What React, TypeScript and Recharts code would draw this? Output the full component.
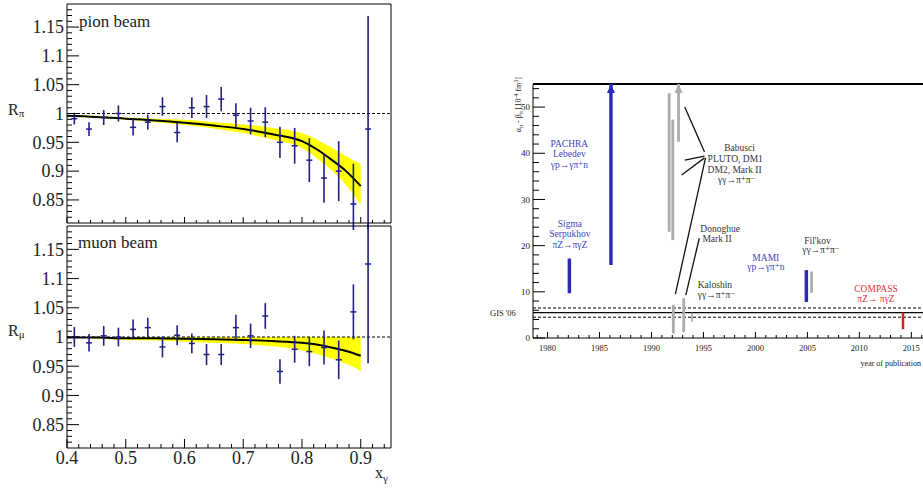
import { ComposedChart, Line, Area, Scatter, ErrorBar, XAxis, YAxis, ReferenceLine, ReferenceDot } from "recharts"

// ---- left panels: R vs x_gamma ----
const binX = [
  0.4125, 0.4375, 0.4625, 0.4875, 0.5125, 0.5375, 0.5625, 0.5875, 0.6125, 0.6375, 0.6625,
  0.6875, 0.7125, 0.7375, 0.7625, 0.7875, 0.8125, 0.8375, 0.8625, 0.8875, 0.9125,
]
const pionR = [
  0.991, 0.973, 0.993, 1.0, 0.976, 0.985, 1.012, 0.967, 1.01, 1.012, 1.025, 0.997, 0.987, 0.985,
  0.95, 0.944, 0.919, 0.888, 0.9, 0.843, 0.973,
]
const pionErr = [
  0.01, 0.012, 0.013, 0.014, 0.014, 0.013, 0.016, 0.017, 0.018, 0.02, 0.021, 0.021, 0.023, 0.026,
  0.027, 0.031, 0.038, 0.043, 0.052, 0.07, 0.196,
]
const muonR = [
  1.0, 0.99, 1.002, 1.0, 1.013, 1.016, 0.983, 1.003, 0.989, 0.97, 0.97, 1.016, 1.002, 1.036, 0.941,
  0.979, 0.975, 0.982, 0.961, 1.043, 1.125,
]
const muonErr = [
  0.017, 0.015, 0.017, 0.016, 0.017, 0.017, 0.018, 0.017, 0.017, 0.018, 0.018, 0.022, 0.021, 0.022,
  0.021, 0.023, 0.025, 0.029, 0.033, 0.047, 0.17,
]

const fitX = [0.4, 0.45, 0.5, 0.55, 0.6, 0.65, 0.7, 0.75, 0.8, 0.825, 0.85, 0.875, 0.9]
const pionFit = [0.996, 0.994, 0.991, 0.988, 0.984, 0.979, 0.973, 0.964, 0.952, 0.938, 0.92, 0.9, 0.874]
const pionLo = [0.995, 0.992, 0.989, 0.985, 0.98, 0.974, 0.966, 0.955, 0.94, 0.923, 0.902, 0.876, 0.842]
const pionHi = [0.997, 0.996, 0.993, 0.991, 0.989, 0.985, 0.981, 0.975, 0.966, 0.955, 0.941, 0.926, 0.912]
const muonFit = [0.999, 0.999, 0.998, 0.998, 0.997, 0.996, 0.995, 0.993, 0.99, 0.987, 0.982, 0.976, 0.968]
const muonLo = [0.999, 0.997, 0.995, 0.994, 0.992, 0.99, 0.988, 0.984, 0.977, 0.971, 0.963, 0.954, 0.942]
const muonHi = [1.0, 1.0, 1.0, 1.0, 1.0, 1.0, 1.0, 1.0, 1.0, 1.0, 1.0, 1.0, 1.0]

const rMajor = [0.85, 0.9, 0.95, 1, 1.05, 1.1, 1.15]
const rLabels = ["0.85", "0.9", "0.95", "1", "1.05", "1.1", "1.15"]
const xMajor = [0.4, 0.5, 0.6, 0.7, 0.8, 0.9]
const xLabels = ["0.4", "0.5", "0.6", "0.7", "0.8", "0.9"]

// ---- right panel: alpha - beta vs year ----
const blueYear = [1982.1, 1986.1, 2004.9]
const blueLo = [9.7, 15.8, 7.8]
const blueHi = [17.2, 55, 14.7]
const grayYear = [1991.7, 1992.05, 1992.6, 1992.1, 1993.1, 2005.4]
const grayLo = [23, 21.2, 42.5, 1, 1.3, 9.8]
const grayHi = [53, 47.3, 55, 7.2, 8.6, 14.4]
const smallYear = [1993.9]
const smallLo = [3.5]
const smallHi = [5.5]
const compassYear = [2014.2]
const compassLo = [1.9]
const compassHi = [5.5]
const gisBand = [4.5, 5.5, 6.5]
const blueArrow = [{ x: 1986.1, y: 55 }]
const grayArrow = [{ x: 1992.6, y: 55 }]

// leader lines from the labels to the measurements: [x1, y1, x2, y2]
const leaders = [
  [1993.2, 50, 1995.1, 40.3],
  [1993.2, 38.5, 1995.1, 39.4],
  [1992.9, 35.3, 1995.1, 39.0],
  [1992.3, 9.5, 1995.2, 39.0],
  [1993.3, 9.3, 1994.6, 21.6],
]

const yearMajor = [1980, 1985, 1990, 1995, 2000, 2005, 2010, 2015]
const polMajor = [0, 10, 20, 30, 40, 50]

type Note = { text: string; x: number; y: number; anchor: "start" | "middle"; color: string }
const blue = "#4343c4"
const dark = "#333"
const red = "#d33"
const notes: Note[] = [
  { text: "PACHRA", x: 1982.1, y: 41.3, anchor: "middle", color: blue },
  { text: "Lebedev", x: 1982.1, y: 39.1, anchor: "middle", color: blue },
  { text: "γp→γπ⁺n", x: 1982.1, y: 36.9, anchor: "middle", color: blue },
  { text: "Sigma", x: 1982.15, y: 24.1, anchor: "middle", color: blue },
  { text: "Serpukhov", x: 1982.15, y: 21.8, anchor: "middle", color: blue },
  { text: "πZ→πγZ", x: 1982.15, y: 19.4, anchor: "middle", color: blue },
  { text: "Babusci", x: 1997.0, y: 40.5, anchor: "start", color: dark },
  { text: "PLUTO, DM1", x: 1995.4, y: 38.2, anchor: "start", color: dark },
  { text: "DM2, Mark II", x: 1995.4, y: 35.8, anchor: "start", color: dark },
  { text: "γγ→π⁺π⁻", x: 1996.4, y: 33.5, anchor: "start", color: dark },
  { text: "Donoghue", x: 1994.7, y: 23.0, anchor: "start", color: dark },
  { text: "Mark II", x: 1994.9, y: 20.8, anchor: "start", color: dark },
  { text: "Kaloshin", x: 1994.45, y: 10.75, anchor: "start", color: dark },
  { text: "γγ→π⁺π⁻", x: 1994.45, y: 8.7, anchor: "start", color: dark },
  { text: "MAMI", x: 2001.0, y: 16.7, anchor: "middle", color: blue },
  { text: "γp→γπ⁺n", x: 2001.0, y: 14.7, anchor: "middle", color: blue },
  { text: "Fil'kov", x: 2004.7, y: 20.3, anchor: "start", color: dark },
  { text: "γγ→π⁺π⁻", x: 2004.5, y: 18.3, anchor: "start", color: dark },
  { text: "COMPASS", x: 2011.6, y: 9.9, anchor: "middle", color: red },
  { text: "πZ→ πγZ", x: 2011.6, y: 7.7, anchor: "middle", color: red },
]

const serif = "'Times New Roman', 'Liberation Serif', 'DejaVu Serif', Times, serif"
const font = { fontFamily: serif }
const navy = "#1f1f85"

function steps(a: number, b: number, step: number) {
  const out: number[] = []
  for (let v = a; v <= b + 1e-9; v += step) out.push(Math.round(v * 1e6) / 1e6)
  return out
}
const rTicks = steps(0.82, 1.18, 0.01)
const xTicks = steps(0.4, 0.94, 0.02)
const yearTicks = steps(1979, 2019, 1)
const polTicks = steps(0, 54, 2)

const isMajor = (majors: number[], v: number) => majors.findIndex((m) => Math.abs(m - v) < 1e-6)

function leftTick(majors: number[], labels: string[], big: number, small: number, fs: number) {
  return (p: any) => {
    const i = isMajor(majors, p.payload.value)
    return (
      <g>
        <line x1={p.x} x2={p.x + (i >= 0 ? big : small)} y1={p.y} y2={p.y} stroke="#000" />
        {i >= 0 && (
          <text x={p.x - 3} y={p.y} dy="0.35em" textAnchor="end" fontSize={fs} fontFamily={serif} style={font} fill="#222">
            {labels[i]}
          </text>
        )}
      </g>
    )
  }
}

function bottomTick(majors: number[], labels: string[] | null, big: number, small: number, fs: number, dy: number) {
  return (p: any) => {
    const i = isMajor(majors, p.payload.value)
    return (
      <g>
        <line x1={p.x} x2={p.x} y1={p.y} y2={p.y - (i >= 0 ? big : small)} stroke="#000" />
        {labels && i >= 0 && (
          <text x={p.x} y={p.y + dy} textAnchor="middle" fontSize={fs} fontFamily={serif} style={font} fill="#222">
            {labels[i]}
          </text>
        )}
      </g>
    )
  }
}

const marker = (p: any) => (
  <line x1={p.cx - 3} x2={p.cx + 3} y1={p.cy} y2={p.cy} stroke={navy} strokeWidth={1.5} />
)

function RatioPanel(props: {
  top: number
  height: number
  marginTop: number
  axisHeight: number
  values: number[]
  errors: number[]
  fit: number[]
  lo: number[]
  hi: number[]
  labels: boolean
}) {
  const points = binX.map((x, i) => ({ x, y: props.values[i], err: props.errors[i] }))
  const curve = fitX.map((x, i) => ({ x, fit: props.fit[i], band: [props.lo[i], props.hi[i]] }))
  return (
    <div style={{ position: "absolute", left: 0, top: props.top, width: 400, height: props.height }}>
      <ComposedChart
        width={400}
        height={props.height}
        data={curve}
        margin={{ top: props.marginTop, right: 9, bottom: 0, left: 0 }}
      >
        <XAxis
          type="number"
          dataKey="x"
          domain={[0.4, 0.9515]}
          allowDataOverflow
          ticks={xTicks}
          interval={0}
          tickSize={0}
          tickMargin={0}
          tickLine={false}
          height={props.axisHeight}
          axisLine={{ stroke: "#000" }}
          tick={bottomTick(xMajor, props.labels ? xLabels : null, props.labels ? 9 : 6, props.labels ? 4 : 3, 18, 16)}
        />
        <YAxis
          type="number"
          domain={[0.81, 1.19]}
          allowDataOverflow
          ticks={rTicks}
          interval={0}
          width={67}
          tickSize={0}
          tickMargin={0}
          tickLine={false}
          axisLine={{ stroke: "#000" }}
          tick={leftTick(rMajor, rLabels, 12, 5, 18)}
        />
        <Area dataKey="band" type="monotone" fill="#ffff00" fillOpacity={1} stroke="none" isAnimationActive={false} />
        <ReferenceLine y={1} stroke="#000" strokeDasharray="3 2" />
        <Line dataKey="fit" type="monotone" stroke="#000" strokeWidth={2} dot={false} isAnimationActive={false} />
        <Scatter data={points} dataKey="y" shape={marker} isAnimationActive={false}>
          <ErrorBar dataKey="err" direction="y" width={0} stroke={navy} strokeWidth={1.6} />
        </Scatter>
        <ReferenceLine y={1.19} stroke="#000" />
        <ReferenceLine x={0.9515} stroke="#000" />
      </ComposedChart>
    </div>
  )
}

const arrowHead = (fill: string) => (p: any) => (
  <polygon points={`${p.cx},${p.cy} ${p.cx - 4},${p.cy + 9} ${p.cx + 4},${p.cy + 9}`} fill={fill} />
)

function bars(years: number[], lo: number[], hi: number[], color: string, w: number, key: string) {
  return years.map((x, i) => (
    <ReferenceLine
      key={key + i}
      segment={[
        { x, y: lo[i] },
        { x, y: hi[i] },
      ]}
      stroke={color}
      strokeWidth={w}
    />
  ))
}

function YearPanel() {
  return (
    <div style={{ position: "absolute", left: 480, top: 60, width: 480, height: 320 }}>
      <ComposedChart width={480} height={320} margin={{ top: 24, right: 5, bottom: 0, left: 0 }}>
        <XAxis
          type="number"
          dataKey="x"
          domain={[1978.6, 2019.2]}
          allowDataOverflow
          ticks={yearTicks}
          interval={0}
          tickSize={0}
          tickMargin={0}
          tickLine={false}
          height={42}
          axisLine={{ stroke: "#000" }}
          tick={bottomTick(yearMajor, yearMajor.map(String), 6, 3, 8.5, 13)}
        />
        <YAxis
          type="number"
          dataKey="y"
          domain={[0, 55]}
          allowDataOverflow
          ticks={polTicks}
          interval={0}
          width={53}
          tickSize={0}
          tickMargin={0}
          tickLine={false}
          axisLine={{ stroke: "#000" }}
          tick={leftTick(polMajor, polMajor.map(String), 12, 6, 9)}
        />
        <ReferenceLine y={55} stroke="#000" strokeWidth={1.8} />
        <ReferenceLine y={gisBand[0]} stroke="#000" strokeDasharray="3 2" />
        <ReferenceLine y={gisBand[1]} stroke="#000" strokeWidth={1.3} />
        <ReferenceLine y={gisBand[2]} stroke="#000" strokeDasharray="3 2" />
        {bars(grayYear, grayLo, grayHi, "#acacac", 2.8, "g")}
        {bars(smallYear, smallLo, smallHi, "#888", 1.2, "s")}
        {bars(blueYear, blueLo, blueHi, "#2b2bb8", 3.5, "b")}
        {bars(compassYear, compassLo, compassHi, "#d42020", 2.5, "c")}
        {leaders.map((l, i) => (
          <ReferenceLine
            key={"l" + i}
            segment={[
              { x: l[0], y: l[1] },
              { x: l[2], y: l[3] },
            ]}
            stroke="#111"
            strokeWidth={1.3}
          />
        ))}
        <Scatter data={blueArrow} dataKey="y" shape={arrowHead("#2b2bb8")} isAnimationActive={false} />
        <Scatter data={grayArrow} dataKey="y" shape={arrowHead("#acacac")} isAnimationActive={false} />
        {notes.map((n, i) => (
          <ReferenceDot
            key={"n" + i}
            x={n.x}
            y={n.y}
            r={0}
            shape={(p: any) => (
              <text x={p.cx} y={p.cy} textAnchor={n.anchor} fontSize={9.5} fontFamily={serif} style={font} fill={n.color}>
                {n.text}
              </text>
            )}
          />
        ))}
      </ComposedChart>
    </div>
  )
}

export default function App() {
  return (
    <div style={{ position: "absolute", left: 0, top: 0, width: 923, height: 493, overflow: "hidden", background: "#fff", ...font }}>
      <RatioPanel top={0} height={230} marginTop={4} axisHeight={7} values={pionR} errors={pionErr} fit={pionFit} lo={pionLo} hi={pionHi} labels={false} />
      <RatioPanel top={224} height={269} marginTop={2} axisHeight={45} values={muonR} errors={muonErr} fit={muonFit} lo={muonLo} hi={muonHi} labels={true} />
      <YearPanel />
      <svg width={923} height={493} fontFamily={serif} style={{ position: "absolute", left: 0, top: 0, pointerEvents: "none", ...font }}>
        <text x={79} y={27} fontSize={17} fill="#222">pion beam</text>
        <text x={78} y={248} fontSize={17} fill="#222">muon beam</text>
        <text x={8} y={115} fontSize={16} fill="#222">
          R<tspan fontSize={11} dy={2}>π</tspan>
        </text>
        <text x={8} y={336} fontSize={16} fill="#222">
          R<tspan fontSize={11} dy={2}>μ</tspan>
        </text>
        <text x={375} y={478} fontSize={16} fill="#222">
          x<tspan fontSize={11} dy={4}>γ</tspan>
        </text>
        <text x={490} y={316} fontSize={8.5} fill="#222">GIS '06</text>
        <text x={921} y={366} fontSize={8} textAnchor="end" fill="#222">year of publication</text>
        <text transform="translate(521,77) rotate(-90)" textAnchor="end" fontSize={8} fill="#222">
          α<tspan fontSize={6} dy={1.5}>π</tspan>
          <tspan dy={-1.5}> - β</tspan>
          <tspan fontSize={6} dy={1.5}>π</tspan>
          <tspan dy={-1.5}> [10</tspan>
          <tspan fontSize={6} dy={-3}>-4</tspan>
          <tspan dy={3}> fm</tspan>
          <tspan fontSize={6} dy={-3}>3</tspan>
          <tspan dy={3}>]</tspan>
        </text>
      </svg>
    </div>
  )
}
